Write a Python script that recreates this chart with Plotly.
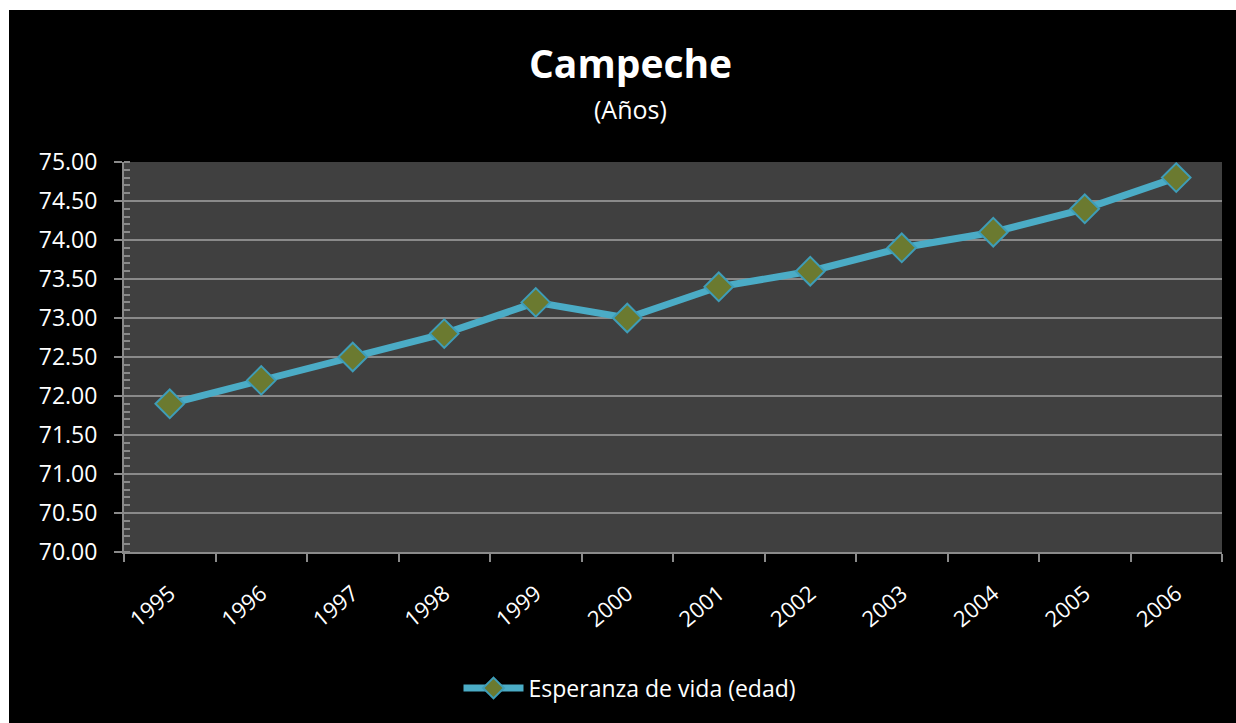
import plotly.graph_objects as go

years = ["1995", "1996", "1997", "1998", "1999", "2000", "2001", "2002", "2003", "2004", "2005", "2006"]
esperanza = [71.9, 72.2, 72.5, 72.8, 73.2, 73.0, 73.4, 73.6, 73.9, 74.1, 74.4, 74.8]
y_ticks = [70.0, 70.5, 71.0, 71.5, 72.0, 72.5, 73.0, 73.5, 74.0, 74.5, 75.0]
y_labels = ["%.2f" % v for v in y_ticks]

# page margin removed below, so figure pixels == screen pixels
W, H = 1236, 723
L, R, T, B = 124, 14, 162, 171
pw, ph = W - L - R, H - T - B

def px_x(px):
    return (px - L) / pw

def px_y(py):
    return (H - B - py) / ph

FONT = "Open Sans"
grid = "#8a8a8a"
cx = px_x(630)

fig = go.Figure()
fig.add_trace(go.Scatter(
    x=years, y=esperanza, mode="lines+markers",
    name="Esperanza de vida (edad)",
    line=dict(color="#4BACC6", width=7),
    marker=dict(symbol="diamond", size=22, color="#6B7A30",
                line=dict(color="#3E9DB8", width=2)),
))

fig.update_layout(
    width=W, height=H,
    margin=dict(l=L, r=R, t=T, b=B, pad=0),
    paper_bgcolor="black",
    plot_bgcolor="#404040",
    font=dict(family=FONT, color="white", size=22),
    showlegend=True,
    legend=dict(orientation="h", x=cx, xanchor="center", y=px_y(688), yanchor="middle",
                font=dict(size=23, color="white"), bgcolor="rgba(0,0,0,0)",
                itemwidth=60),
    xaxis=dict(
        type="category", tickson="boundaries", ticks="outside", ticklen=8,
        tickcolor=grid, tickwidth=2, showline=True, linecolor=grid, linewidth=2,
        showgrid=False, tickangle=-40, tickfont=dict(size=22, color="white"),
        ticklabelstandoff=18,
        range=[-0.5, 11.5],
    ),
    yaxis=dict(
        range=[70, 75], tickvals=y_ticks, ticktext=y_labels,
        ticks="outside", ticklen=8, tickcolor=grid, tickwidth=2,
        showline=True, linecolor=grid, linewidth=2,
        showgrid=True, gridcolor=grid, gridwidth=2,
        tickfont=dict(size=23, color="white"), zeroline=False,
        ticklabelstandoff=12,
        minor=dict(ticks="inside", ticklen=6, tickcolor=grid, tickwidth=2,
                   dtick=0.1, showgrid=False),
    ),
    annotations=[
        dict(text="<b>Campeche</b>", x=cx, xref="paper", y=px_y(62), yref="paper",
             xanchor="center", yanchor="middle", showarrow=False,
             font=dict(size=39, color="white", family=FONT)),
        dict(text="(Años)", x=cx, xref="paper", y=px_y(109), yref="paper",
             xanchor="center", yanchor="middle", showarrow=False,
             font=dict(size=25, color="white", family=FONT)),
    ],
    shapes=[
        dict(type="rect", xref="paper", yref="paper", x0=px_x(-5), x1=px_x(9),
             y0=px_y(H + 5), y1=px_y(-5), fillcolor="white", line=dict(width=0), layer="above"),
        dict(type="rect", xref="paper", yref="paper", x0=px_x(-5), x1=px_x(W + 5),
             y0=px_y(10), y1=px_y(-5), fillcolor="white", line=dict(width=0), layer="above"),
    ],
)

fig.write_html(
    "out.html",
    config={"displayModeBar": False},
    post_script="document.body.style.margin='0';document.documentElement.style.overflow='hidden';",
)
